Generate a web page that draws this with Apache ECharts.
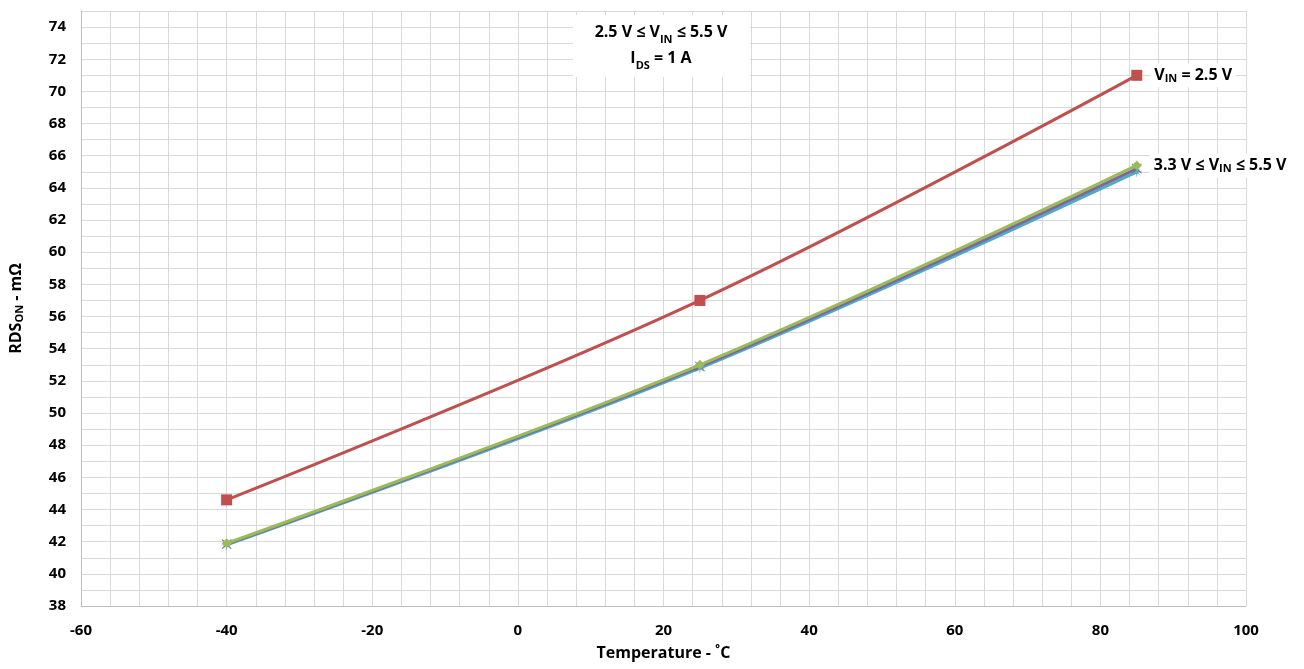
<!DOCTYPE html>
<html><head><meta charset="utf-8">
<script src="https://cdn.jsdelivr.net/npm/echarts@6/dist/echarts.min.js"></script>
<style>html,body{margin:0;padding:0;background:#fff}#c{width:1304px;height:669px}</style>
</head><body><div id="c"></div>
<script>
const temps = [-40, 25, 85];
const vin25 = [44.6, 57.0, 71.0];
const vin33 = [41.9, 53.0, 65.4];
const vin50 = [41.85, 52.9, 65.2];
const vin55 = [41.8, 52.8, 65.0];
const xTickLabels = [-60, -40, -20, 0, 20, 40, 60, 80, 100];
const yTickLabels = [38, 40, 42, 44, 46, 48, 50, 52, 54, 56, 58, 60, 62, 64, 66, 68, 70, 72, 74];

const FONT = '"Open Sans", "Liberation Sans", sans-serif';
const pts = a => temps.map((t, i) => [t, a[i]]);
const rich = {
  b: {fontFamily: FONT, fontWeight: 'bold', fontSize: 16, color: '#000'},
  s: {fontFamily: FONT, fontWeight: 'bold', fontSize: 11, color: '#000', verticalAlign: 'bottom', padding: [7, 0, 0, 0]}
};
const chart = echarts.init(document.getElementById('c'));
const starPath = 'path://M0,-10L1.2,-2.2L7,-7L2.2,-1.2L10,0L2.2,1.2L7,7L1.2,2.2L0,10L-1.2,2.2L-7,7L-2.2,1.2L-10,0L-2.2,-1.2L-7,-7L-1.2,-2.2Z';
const xPath = 'path://M-7,-8L0,-1.5L7,-8L8,-7L1.5,0L8,7L7,8L0,1.5L-7,8L-8,7L-1.5,0L-8,-7Z';

function endLabel(text) {
  return {
    show: true, position: 'right', distance: 8,
    formatter: p => p.dataIndex === temps.length - 1 ? text : '',
    backgroundColor: '#fff', padding: [3, 4, 3, 4], rich
  };
}

chart.setOption({
  animation: false,
  grid: {left: 79, right: 58, top: 11, bottom: 63},
  xAxis: {
    type: 'value', min: -60, max: 100, interval: 4,
    name: 'Temperature - ˚C', nameLocation: 'middle', nameGap: 39,
    nameTextStyle: {fontFamily: FONT, fontWeight: 'bold', fontSize: 16, color: '#000'},
    axisLine: {show: true, onZero: false, lineStyle: {color: '#bfbfbf', width: 1}},
    axisTick: {show: false},
    axisLabel: {
      fontFamily: FONT, fontWeight: 'bold', fontSize: 15, color: '#000', margin: 17,
      formatter: v => xTickLabels.includes(v) ? String(v) : ''
    },
    splitLine: {show: true, lineStyle: {color: '#d9d9d9', width: 1}}
  },
  yAxis: {
    type: 'value', min: 38, max: 75, interval: 1,
    name: '{b|RDS}{s|ON}{b| - mΩ}', nameLocation: 'middle', nameGap: 56, nameRotate: 90,
    nameTextStyle: {rich},
    axisLine: {show: true, onZero: false, lineStyle: {color: '#bfbfbf', width: 1}},
    axisTick: {show: false},
    axisLabel: {
      fontFamily: FONT, fontWeight: 'bold', fontSize: 15, color: '#000', margin: 15,
      formatter: v => yTickLabels.includes(v) ? String(v) : ''
    },
    splitLine: {show: true, lineStyle: {color: '#d9d9d9', width: 1}}
  },
  series: [
    {name: '5.5 V', type: 'line', smooth: 0.35, data: pts(vin55), symbol: starPath, symbolSize: 12,
     lineStyle: {color: '#4BACC6', width: 3}, itemStyle: {color: '#4BACC6'}, z: 2},
    {name: '5.0 V', type: 'line', smooth: 0.35, data: pts(vin50), symbol: xPath, symbolSize: 10,
     lineStyle: {color: '#8064A2', width: 3}, itemStyle: {color: '#8064A2'}, z: 3},
    {name: '3.3 V', type: 'line', smooth: 0.35, data: pts(vin33), symbol: 'diamond', symbolSize: 10,
     lineStyle: {color: '#9BBB59', width: 3}, itemStyle: {color: '#9BBB59'}, z: 4,
     label: endLabel('{b|3.3 V ≤ V}{s|IN}{b| ≤ 5.5 V}')},
    {name: '2.5 V', type: 'line', smooth: 0.35, data: pts(vin25), symbol: 'rect', symbolSize: 11,
     lineStyle: {color: '#C0504D', width: 3}, itemStyle: {color: '#C0504D'}, z: 5,
     label: endLabel('{b|V}{s|IN}{b| = 2.5 V}')}
  ],
  graphic: [
    {type: 'rect', left: 573, top: 15, z: 9, shape: {width: 177, height: 62}, style: {fill: '#fff'}},
    {
      type: 'text', x: 661, y: 19, z: 10,
      style: {
        text: '{b|2.5 V ≤ V}{s|IN}{b| ≤ 5.5 V}\n{b|I}{s|DS}{b| = 1 A}',
        rich: {b: Object.assign({}, rich.b, {lineHeight: 26}), s: Object.assign({}, rich.s, {lineHeight: 26})},
        align: 'center', verticalAlign: 'top'
      }
    }
  ]
});
</script></body></html>
